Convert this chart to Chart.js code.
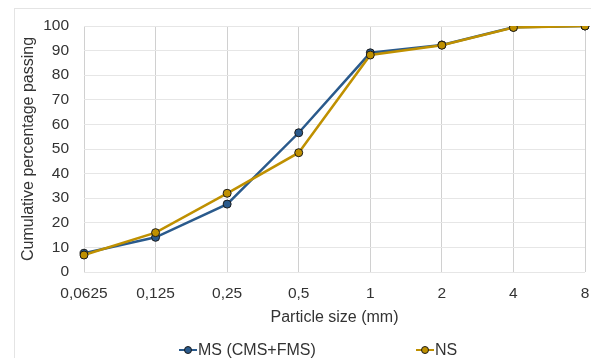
<!DOCTYPE html>
<html>
<head>
<meta charset="utf-8">
<script src="https://cdn.jsdelivr.net/npm/chart.js@4"></script>
<style>
    body { margin: 0; width: 591px; height: 358px; overflow: hidden; background: #fff; position: relative; font-family: 'Liberation Sans', Arial, sans-serif; }
    #frame { position: absolute; left: 14px; top: 8px; width: 600px; height: 400px; border: 1px solid #e4e4e4; }
    #chart { position: absolute; left: 0; top: 0; }
    .legend-item { position: absolute; top: 341px; height: 18px; display: flex; align-items: center; font-size: 16px; color: #333; white-space: nowrap; }
    .legend-mark { position: relative; width: 18px; height: 18px; margin-right: 1px; }
    .legend-mark .line { position: absolute; left: 0; right: 0; top: 8px; height: 2px; }
    .legend-mark .dot { position: absolute; left: 5px; top: 5px; width: 6px; height: 6px; border-radius: 50%; border: 1px solid #1a1a1a; }
</style>
</head>
<body>
<div id="frame"></div>
<canvas id="chart" width="591" height="358"></canvas>
<div id="legend"></div>
<script>
const sizes = ['0,0625', '0,125', '0,25', '0,5', '1', '2', '4', '8'];
const msValues = [7.6, 14.1, 27.6, 56.6, 89.1, 92.3, 99.5, 100];
const nsValues = [6.9, 16.0, 32.0, 48.5, 88.2, 92.2, 99.4, 100];
const seriesNames = ['MS (CMS+FMS)', 'NS'];
const seriesColors = ['#2a5a8c', '#bf9000'];
const legendLefts = [179, 416];

const tickFont = { family: "'Liberation Sans', Arial, sans-serif", size: 15.5 };
const titleFont = { family: "'Liberation Sans', Arial, sans-serif", size: 16 };

function makeDataset(i, values, order) {
    return {
        label: seriesNames[i],
        data: values,
        borderColor: seriesColors[i],
        backgroundColor: seriesColors[i],
        borderWidth: 2.5,
        pointRadius: 4,
        pointBorderWidth: 1,
        pointBorderColor: '#1a1a1a',
        pointBackgroundColor: seriesColors[i],
        tension: 0,
        order: order
    };
}

const config = {
    type: 'line',
    data: {
        labels: sizes,
        datasets: [makeDataset(0, msValues, 2), makeDataset(1, nsValues, 1)]
    },
    options: {
        responsive: false,
        devicePixelRatio: 1,
        animation: false,
        layout: { padding: { left: 14, top: 26, right: 6, bottom: 31 } },
        plugins: {
            legend: { display: false },
            tooltip: { enabled: false }
        },
        scales: {
            x: {
                offset: false,
                grid: { color: '#d0d0d0', lineWidth: 1, drawTicks: false },
                border: { display: false },
                ticks: { font: tickFont, color: '#333', padding: 12, maxRotation: 0, autoSkip: false },
                title: { display: true, text: 'Particle size (mm)', font: titleFont, color: '#333', padding: { top: 0, bottom: 0 } },
                afterFit: function (scale) {
                    scale.height = 55;
                    // labels at the edges may overhang, the layout padding covers them
                    scale.paddingLeft = 0;
                    scale.paddingRight = 0;
                }
            },
            y: {
                min: 0,
                max: 100,
                grid: { color: '#e6e6e6', lineWidth: 1, drawTicks: false },
                border: { display: false },
                ticks: { stepSize: 10, font: tickFont, color: '#333', padding: 15 },
                title: { display: true, text: 'Cumulative percentage passing', font: titleFont, color: '#333', padding: { top: 5, bottom: 0 } },
                afterFit: function (scale) { scale.width = 70; }
            }
        }
    }
};

const chart = new Chart(document.getElementById('chart'), config);

// legend in html, built from the series
const legend = document.getElementById('legend');
for (let i = 0; i < seriesNames.length; i++) {
    let item = document.createElement('div');
    item.className = 'legend-item';
    item.style.left = legendLefts[i] + 'px';

    let mark = document.createElement('span');
    mark.className = 'legend-mark';
    let line = document.createElement('span');
    line.className = 'line';
    line.style.background = seriesColors[i];
    let dot = document.createElement('span');
    dot.className = 'dot';
    dot.style.background = seriesColors[i];
    mark.appendChild(line);
    mark.appendChild(dot);

    let text = document.createElement('span');
    text.innerText = seriesNames[i];

    item.appendChild(mark);
    item.appendChild(text);
    legend.appendChild(item);
}
</script>
</body>
</html>
